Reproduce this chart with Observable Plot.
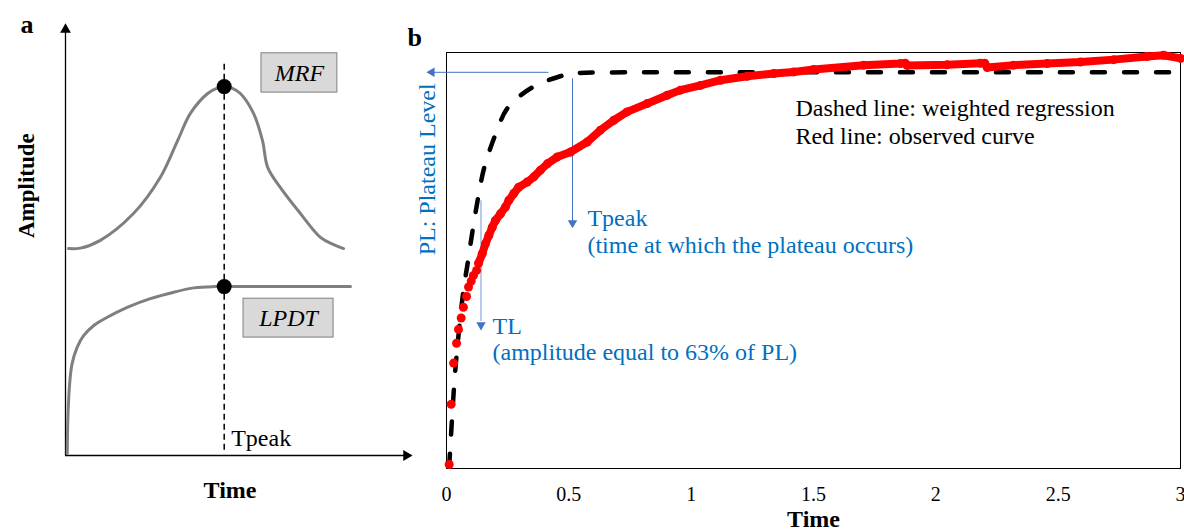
<!DOCTYPE html>
<html>
<head>
<meta charset="utf-8">
<script src="https://cdn.jsdelivr.net/npm/d3@7"></script>
<script src="https://cdn.jsdelivr.net/npm/@observablehq/plot@0.6"></script>
<style>
  html, body { margin: 0; padding: 0; background: #fff; }
  #wrap { position: relative; width: 1184px; height: 531px; overflow: hidden; }
  .panel { position: absolute; top: 0; }
  .panel svg { overflow: visible; }
</style>
</head>
<body>
<div id="wrap">
  <div class="panel" id="pa" style="left:0px"></div>
  <div class="panel" id="pb" style="left:400px"></div>
</div>
<script>
// ---------- Panel a (schematic, arbitrary units 0..10) ----------
const mrfTime  = [0.09, 0.43, 1.01, 1.97, 2.75, 3.25, 3.62, 4.12, 4.38, 4.61, 4.84, 5.07, 5.45, 5.71, 5.86, 6.23, 6.81, 7.39, 7.77, 8.06];
const mrfAmp   = [4.79, 4.80, 4.98, 5.60, 6.44, 7.29, 7.92, 8.38, 8.50, 8.54, 8.50, 8.38, 7.92, 7.29, 6.67, 6.20, 5.60, 5.05, 4.88, 4.79];
const lpdtTime = [0.05, 0.07, 0.12, 0.19, 0.34, 0.53, 0.82, 1.21, 1.79, 2.46, 3.14, 3.72, 4.30, 4.58, 8.26];
const lpdtAmp  = [0.04, 0.89, 1.66, 2.12, 2.51, 2.78, 3.01, 3.20, 3.43, 3.63, 3.78, 3.88, 3.91, 3.91, 3.91];
const tpeakA = 4.6;
const peakAmps = [8.54, 3.91];
const boxLabels = ["MRF", "LPDT"];
const boxX1 = [5.68, 5.16], boxX2 = [7.88, 7.77], boxY1 = [8.40, 2.73], boxY2 = [9.31, 3.63];

// ---------- Panel b (observed curve and weighted regression) ----------
const xTicks = [0, 0.5, 1, 1.5, 2, 2.5, 3];
const obsTime = [0.011, 0.019, 0.029, 0.041, 0.049, 0.060, 0.069, 0.082, 0.090, 0.101, 0.110, 0.123, 0.131,
  0.146, 0.159, 0.173, 0.187, 0.200, 0.221, 0.241, 0.255, 0.275, 0.295, 0.330, 0.357, 0.384, 0.412, 0.452,
  0.507, 0.575, 0.629, 0.684, 0.738, 0.820, 0.902, 0.956, 1.038, 1.120, 1.229, 1.338, 1.419, 1.501, 1.705,
  1.855, 1.875, 1.883, 2.046, 2.182, 2.200, 2.210, 2.318, 2.455, 2.591, 2.727, 2.863, 2.931, 3.000];
const obsAmp = [0.010, 0.162, 0.266, 0.316, 0.351, 0.380, 0.407, 0.434, 0.458, 0.473, 0.487, 0.500, 0.518,
  0.542, 0.567, 0.588, 0.609, 0.626, 0.643, 0.660, 0.677, 0.694, 0.710, 0.723, 0.736, 0.753, 0.769, 0.786,
  0.799, 0.824, 0.854, 0.879, 0.900, 0.921, 0.942, 0.955, 0.967, 0.980, 0.990, 0.997, 1.001, 1.007, 1.018,
  1.022, 1.023, 1.017, 1.019, 1.023, 1.023, 1.012, 1.018, 1.022, 1.026, 1.032, 1.040, 1.043, 1.035];
const fitTime = [0.011, 0.023, 0.037, 0.069, 0.085, 0.106, 0.130, 0.155, 0.207, 0.250, 0.348, 0.465, 0.519, 0.75, 1.0, 1.5, 2.0, 2.5, 3.0];
const fitAmp  = [0.005, 0.130, 0.256, 0.449, 0.512, 0.598, 0.686, 0.761, 0.854, 0.910, 0.961, 0.990, 0.997, 1.0, 1.0, 1.0, 1.0, 1.0, 1.0];
const plateau = 1.0;
const tpeakB = 0.515;
const tlTime = 0.141, tlTop = 0.677, tlAmp = 0.362;

const serif = '"Liberation Serif", "Times New Roman", serif';
const blue = "#0070C0", arrowBlue = "#4472C4";

const mrf = mrfTime.map((t, i) => ({t, a: mrfAmp[i]}));
const lpdt = lpdtTime.map((t, i) => ({t, a: lpdtAmp[i]}));
const boxes = boxLabels.map((label, i) => ({label, x1: boxX1[i], x2: boxX2[i], y1: boxY1[i], y2: boxY2[i],
  cx: (boxX1[i] + boxX2[i]) / 2, cy: (boxY1[i] + boxY2[i]) / 2}));
const peaks = peakAmps.map(a => ({t: tpeakA, a}));

const A = Plot.plot({
  width: 420, height: 531,
  marginLeft: 65, marginRight: 10, marginTop: 23, marginBottom: 76,
  x: {domain: [0, 10], axis: null},
  y: {domain: [0, 10], axis: null},
  style: {background: "transparent", fontFamily: serif, overflow: "visible"},
  marks: [
    Plot.ruleX([0], {y1: 0, y2: 9.86, stroke: "black", strokeWidth: 1.3}),
    Plot.ruleY([0], {x1: 0, x2: 9.88, stroke: "black", strokeWidth: 1.3}),
    Plot.dot([{x: 0, y: 9.86, ang: 0}, {x: 9.88, y: 0, ang: 90}],
      {x: "x", y: "y", rotate: "ang", symbol: "triangle", r: 4, fill: "black", stroke: "none"}),
    Plot.ruleX([tpeakA], {y1: 0.12, y2: 9.14, stroke: "black", strokeWidth: 1.5, strokeDasharray: "6,4"}),
    Plot.line(mrf, {x: "t", y: "a", curve: "catmull-rom", stroke: "#7f7f7f", strokeWidth: 3}),
    Plot.line(lpdt, {x: "t", y: "a", curve: "catmull-rom", stroke: "#7f7f7f", strokeWidth: 3}),
    Plot.rect(boxes, {x1: "x1", x2: "x2", y1: "y1", y2: "y2", fill: "#d9d9d9", stroke: "#7f7f7f", strokeWidth: 1}),
    Plot.text(boxes, {x: "cx", y: "cy", text: "label", fontStyle: "italic", fontSize: 24, fill: "black"}),
    Plot.dot(peaks, {x: "t", y: "a", r: 7.5, fill: "black", stroke: "none"}),
    Plot.text(["Tpeak"], {x: tpeakA, y: 0.23, dx: 7, textAnchor: "start", lineAnchor: "bottom", fontSize: 24, fill: "black"}),
    Plot.text(["a"], {frameAnchor: "top-left", dx: -45, dy: 9, textAnchor: "start", lineAnchor: "bottom", fontSize: 26, fontWeight: "bold", fill: "black"}),
    Plot.text(["Amplitude"], {frameAnchor: "left", dx: -32, dy: -1.5, rotate: -90, lineAnchor: "bottom", fontSize: 23, fontWeight: "bold", fill: "black"}),
    Plot.text(["Time"], {frameAnchor: "bottom", dx: -8, dy: 42, lineAnchor: "bottom", fontSize: 24, fontWeight: "bold", fill: "black"})
  ]
});
document.getElementById("pa").appendChild(A);

const obs = obsTime.map((t, i) => ({t, a: obsAmp[i]}));
const fit = fitTime.map((t, i) => ({t, a: fitAmp[i]}));

const B = Plot.plot({
  width: 784, height: 531,
  marginLeft: 46, marginRight: 4, marginTop: 52, marginBottom: 63,
  x: {domain: [0, 3], axis: null},
  y: {domain: [0, 1.05], axis: null},
  style: {background: "transparent", fontFamily: serif, overflow: "visible"},
  marks: [
    Plot.frame({stroke: "black", strokeWidth: 1}),
    Plot.axisX(xTicks, {tickSize: 0, tickPadding: 18, tickFormat: d => String(d), fontSize: 20, label: null, fill: "black"}),
    Plot.text(["Time"], {frameAnchor: "bottom", dy: 58, lineAnchor: "bottom", fontSize: 24, fontWeight: "bold", fill: "black"}),
    Plot.text(["b"], {frameAnchor: "top-left", dx: -39, dy: -7, textAnchor: "start", lineAnchor: "bottom", fontSize: 26, fontWeight: "bold", fill: "black"}),
    // annotations: arrows
    Plot.link([0], {x1: 0.417, x2: -0.06, y1: plateau, y2: plateau, stroke: arrowBlue, strokeWidth: 1}),
    Plot.link([0], {x1: tpeakB, x2: tpeakB, y1: 0.985, y2: 0.625, stroke: arrowBlue, strokeWidth: 1}),
    Plot.link([0], {x1: tlTime, x2: tlTime, y1: tlTop, y2: tlAmp + 0.01, stroke: "#a3bbe6", strokeWidth: 1.5}),
    Plot.dot([{x: -0.06, y: plateau, ang: -90}, {x: tpeakB, y: 0.620, ang: 180}, {x: tlTime, y: tlAmp, ang: 180}],
      {x: "x", y: "y", rotate: "ang", symbol: "triangle", r: 3.5, fill: arrowBlue, stroke: "none"}),
    // regression (dashed) and observed (red)
    Plot.line(fit, {x: "t", y: "a", curve: "catmull-rom", stroke: "black", strokeWidth: 4.5, strokeDasharray: "13,19", strokeLinecap: "round"}),
    Plot.line(obs, {filter: d => d.t >= 0.125, x: "t", y: "a", curve: "linear", stroke: "#ff0000", strokeWidth: 8, strokeLinejoin: "round"}),
    Plot.dot(obs, {x: "t", y: "a", r: 4.5, fill: "#ff0000", stroke: "none"}),
    // texts
    Plot.text(["PL: Plateau Level"], {x: -0.045, y: 0.755, rotate: -90, lineAnchor: "bottom", fontSize: 24, fill: blue}),
    Plot.text(["Tpeak\n(time at which the plateau occurs)"], {x: 0.576, y: 0.543, textAnchor: "start", lineAnchor: "bottom", lineHeight: 1.13, fontSize: 24, fill: blue}),
    Plot.text(["TL\n(amplitude equal to 63% of PL)"], {x: 0.188, y: 0.275, textAnchor: "start", lineAnchor: "bottom", lineHeight: 1.05, fontSize: 24, fill: blue}),
    Plot.text(["Dashed line: weighted regression\nRed line: observed curve"], {x: 1.426, y: 0.818, textAnchor: "start", lineAnchor: "bottom", lineHeight: 1.17, fontSize: 24, fill: "black"})
  ]
});
document.getElementById("pb").appendChild(B);
</script>
</body>
</html>
